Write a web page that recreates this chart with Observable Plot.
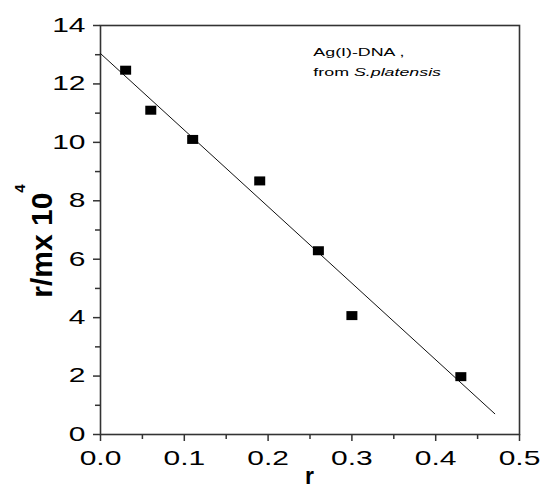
<!DOCTYPE html>
<html><head><meta charset="utf-8">
<script src="https://cdn.jsdelivr.net/npm/d3@7"></script>
<script src="https://cdn.jsdelivr.net/npm/@observablehq/plot@0.6"></script>
<style>
body{margin:0;background:#fff}
#chart svg{font-family:"Liberation Sans",Arial,sans-serif;background:#fff}
</style>
</head><body><div id="chart"></div>
<script>
// data
const rValues  = [0.03, 0.06, 0.11, 0.19, 0.26, 0.30, 0.43];
const rmValues = [12.47, 11.1, 10.1, 8.68, 6.29, 4.07, 1.98];
const fitX = [0, 0.4705];
const fitY = [13.04, 0.71];
const xTicks = [0, 0.1, 0.2, 0.3, 0.4, 0.5];
const xMinor = [0.05, 0.15, 0.25, 0.35, 0.45];
const yTicks = [0, 2, 4, 6, 8, 10, 12, 14];
const yMinor = [1, 3, 5, 7, 9, 11, 13];
const noteLine1 = "Ag(I)-DNA ,";
const noteLine2a = "from ";
const noteLine2b = "S.platensis";
const noteX = 0.254;
const noteY = [13.07, 12.41];
const xTitle = "r";
const yTitle = "r/mx 10";
const yTitleSup = "4";

const points = rValues.map((r, i) => ({r, v: rmValues[i]}));
const fit = fitX.map((x, i) => ({x, y: fitY[i]}));

const rectSymbol = {draw(ctx) { ctx.rect(-5.5, -4.5, 11, 9); }};
const axisColor = "#333";

const plot = Plot.plot({
  width: 540, height: 488,
  marginLeft: 100, marginRight: 21, marginTop: 25, marginBottom: 54,
  x: {domain: [0, 0.5]},
  y: {domain: [0, 14]},
  marks: [
    Plot.axisX({ticks: xTicks, tickSize: 7, tickPadding: 9, tickFormat: d3.format(".1f"),
      fontSize: 20, label: null, stroke: axisColor, strokeWidth: 1.5, fill: "#000"}),
    Plot.axisX({ticks: xMinor, tickSize: 5, text: null, label: null, stroke: axisColor, strokeWidth: 1.5}),
    Plot.axisY({ticks: yTicks, tickSize: 7, tickPadding: 8, tickFormat: d3.format("d"),
      fontSize: 20, label: null, stroke: axisColor, strokeWidth: 1.5, fill: "#000"}),
    Plot.axisY({ticks: yMinor, tickSize: 5, text: null, label: null, stroke: axisColor, strokeWidth: 1.5}),
    Plot.frame({stroke: axisColor, strokeWidth: 1.6}),
    Plot.line(fit, {x: "x", y: "y", stroke: "#111", strokeWidth: 1}),
    Plot.dot(points, {x: "r", y: "v", symbol: rectSymbol, fill: "#000", stroke: "none"}),
    Plot.text([noteLine1], {x: () => noteX, y: () => noteY[0], text: d => d, textAnchor: "start",
      lineAnchor: "middle", fontSize: 11.5, fill: "#000", className: "note"}),
    Plot.text([noteLine2a], {x: () => noteX, y: () => noteY[1], text: d => d, textAnchor: "start",
      lineAnchor: "middle", fontSize: 11.5, fill: "#000", className: "note2"}),
    Plot.text([xTitle], {frameAnchor: "bottom", text: d => d,
      fontSize: 23, fontWeight: "bold", fill: "#000", className: "xtitle"}),
    Plot.text([yTitle], {frameAnchor: "left", text: d => d,
      fontSize: 30, fontWeight: "bold", fill: "#000", className: "ytitle"})
  ]
});

const svg = d3.select(plot);

// place the axis titles explicitly (baseline-anchored)
svg.selectAll(".ytitle").attr("transform", null);
svg.selectAll(".ytitle text")
  .attr("x", null).attr("y", null).attr("dy", null)
  .attr("text-anchor", "middle")
  .attr("transform", "translate(52,241) rotate(-90)")
  .append("tspan").attr("dy", -27).attr("font-size", 15).text(yTitleSup);
svg.selectAll(".xtitle").attr("transform", null);
svg.selectAll(".xtitle text")
  .attr("x", null).attr("y", null).attr("dy", null)
  .attr("text-anchor", "middle")
  .attr("transform", "translate(309.5,484)");

// italic species name
svg.selectAll(".note2 text").append("tspan").attr("font-style", "italic").text(noteLine2b);

function stretch(sel, k) {
  sel.each(function() {
    const t = this.getAttribute("transform");
    if (t) this.setAttribute("transform", t + ` scale(${k},1)`);
    else {
      const x = +this.getAttribute("x") || 0, y = +this.getAttribute("y") || 0;
      this.setAttribute("transform", `translate(${x},${y}) scale(${k},1) translate(${-x},${-y})`);
    }
  });
}
stretch(svg.selectAll("g[aria-label='x-axis tick label'] text, g[aria-label='y-axis tick label'] text"), 1.5);
stretch(svg.selectAll(".note text, .note2 text"), 1.55);

document.getElementById("chart").appendChild(plot);
</script>
</body></html>
